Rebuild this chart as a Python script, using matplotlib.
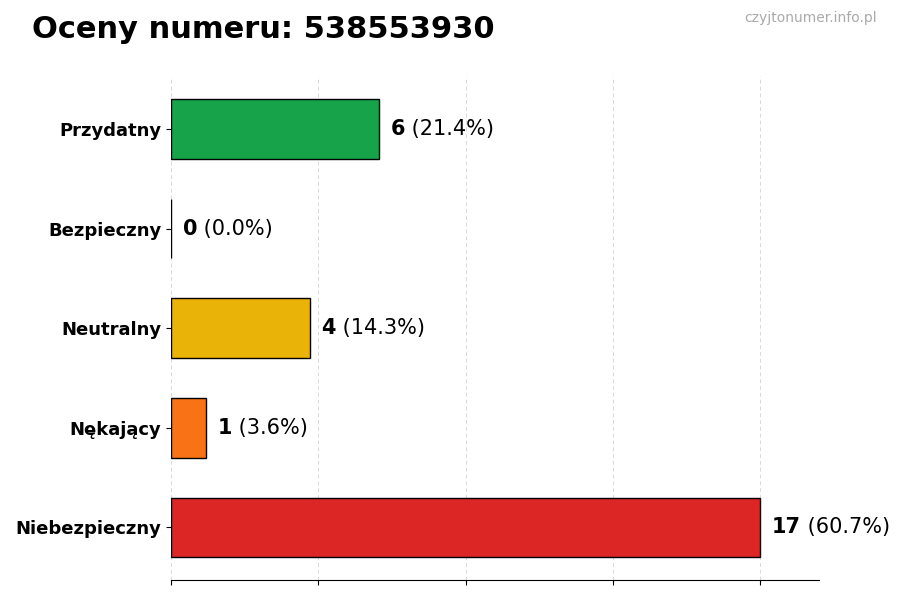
import numpy as np
import matplotlib.pyplot as plt

categories = ["Przydatny", "Bezpieczny", "Neutralny", "Nękający", "Niebezpieczny"]
counts = [6, 0, 4, 1, 17]
colors = ["#16a34a", "#16a34a", "#eab308", "#f97316", "#dc2626"]
title = "Oceny numeru: 538553930"
watermark = "czyjtonumer.info.pl"

total = sum(counts)
vmax = max(counts)

fig = plt.figure(figsize=(9, 6), dpi=100)
ax = fig.add_axes([0.19, 0.033, 0.72, 0.84])

y = np.arange(len(categories))
ax.barh(y, counts, height=0.6, color=colors, edgecolor="black", linewidth=1, zorder=3)
ax.invert_yaxis()
ax.set_yticks(y)
ax.set_yticklabels(categories, fontsize=13, fontweight="bold")
ax.set_xlim(0, vmax * 1.1)
ax.set_xticks(np.linspace(0, vmax, 5))
ax.set_xticklabels([])
ax.grid(axis="x", linestyle=(0, (4, 3)), color="#d9d9d9", linewidth=0.7, zorder=0)

for s in ["top", "right", "left"]:
    ax.spines[s].set_visible(False)

# value labels: bold count + percent
for i, c in enumerate(counts):
    pct = c / total * 100
    t = ax.annotate(str(c), xy=(c, i), xytext=(8.5, 0), textcoords="offset points",
                    va="center", ha="left", fontsize=15, fontweight="bold")
    ax.annotate(" (%.1f%%)" % pct, xycoords=t, xy=(1, 0.5), va="center", ha="left",
                fontsize=15)

fig.text(0.036, 0.95, title, fontsize=22, fontweight="bold", va="center", ha="left")
fig.text(0.974, 0.97, watermark, fontsize=10, color="#aaaaaa", va="center", ha="right")

fig.savefig("out.png", dpi=100)
